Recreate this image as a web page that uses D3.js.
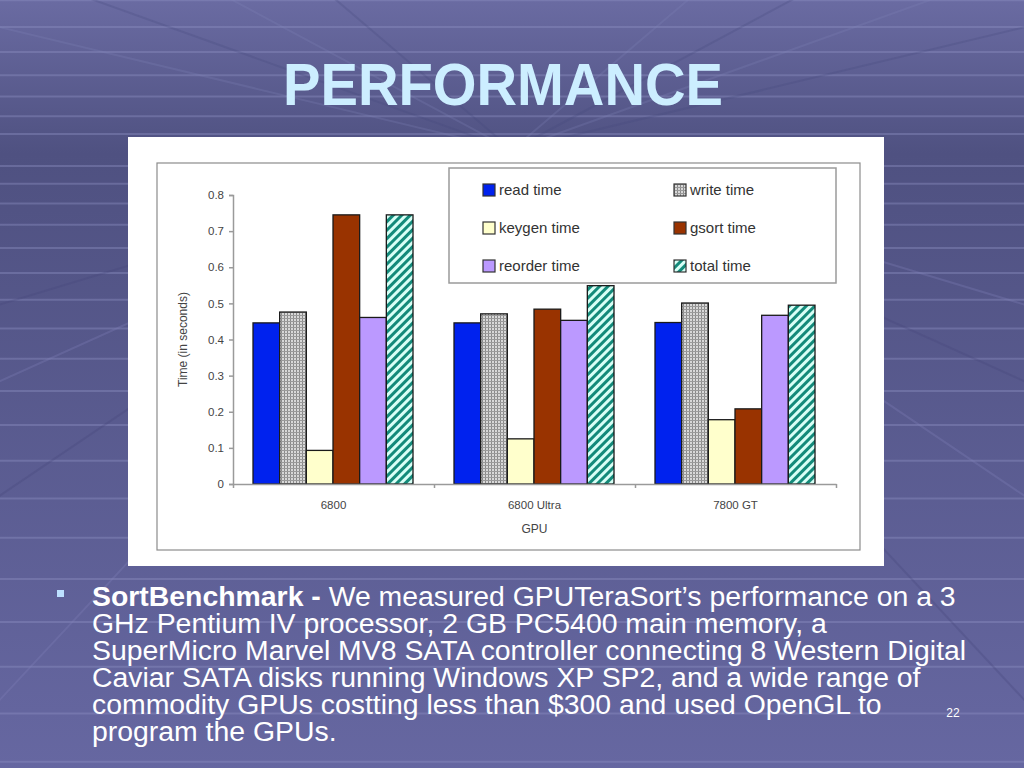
<!DOCTYPE html>
<html>
<head>
<meta charset="utf-8">
<script src="https://cdn.jsdelivr.net/npm/d3@7"></script>
<style>
  html, body { margin: 0; padding: 0; background: #5c5e92; }
  svg { display: block; }
</style>
</head>
<body>
<div id="root"></div>
<script>
// Data ////////////////////////////////////////////////////////////////
const categories = ['6800', '6800 Ultra', '7800 GT'];
const seriesNames = ['read time', 'write time', 'keygen time', 'gsort time', 'reorder time', 'total time'];
const readTime = [0.446, 0.446, 0.447];
const writeTime = [0.476, 0.471, 0.501];
const keygenTime = [0.093, 0.125, 0.178];
const gsortTime = [0.745, 0.484, 0.208];
const reorderTime = [0.461, 0.453, 0.467];
const totalTime = [0.745, 0.549, 0.495];
const yTicks = [0, 0.1, 0.2, 0.3, 0.4, 0.5, 0.6, 0.7, 0.8];

const seriesValues = [readTime, writeTime, keygenTime, gsortTime, reorderTime, totalTime];
const fills = ['#0022ee', 'url(#checker)', '#ffffcc', '#993300', '#bb99ff', 'url(#hatch)'];

const bodyLines = [
  [{ t: 'SortBenchmark - ', b: true }, { t: 'We measured GPUTeraSort\u2019s performance on a 3' }],
  [{ t: 'GHz Pentium IV processor, 2 GB PC5400 main memory, a' }],
  [{ t: 'SuperMicro Marvel MV8 SATA controller connecting 8 Western Digital' }],
  [{ t: 'Caviar SATA disks running Windows XP SP2, and a wide range of' }],
  [{ t: 'commodity GPUs costting less than $300 and used OpenGL to' }],
  [{ t: 'program the GPUs.' }],
];

const width = 1024;
const height = 768;

const svg = d3.select('#root').append('svg').attr('width', width).attr('height', height);
const defs = svg.append('defs');

// Background //////////////////////////////////////////////////////////
const bg = defs.append('linearGradient').attr('id', 'bg').attr('x1', 0).attr('y1', 0).attr('x2', 0).attr('y2', 1);
bg.append('stop').attr('offset', '0%').attr('stop-color', '#6a6ba2');
bg.append('stop').attr('offset', '20%').attr('stop-color', '#4f5181');
bg.append('stop').attr('offset', '100%').attr('stop-color', '#6667a1');
svg.append('rect').attr('width', width).attr('height', height).attr('fill', 'url(#bg)');

// perspective grid (decoration)
const horizon = 150;
const grid = svg.append('g').attr('stroke-width', 2).attr('fill', 'none');
let off = 0;
for (let k = 0; off < 640; k++) {
  off += 16 + 1.8 * k;
  [horizon + off, horizon - off].forEach((yy) => {
    if (yy > 0 && yy < height) {
      grid.append('line').attr('x1', 0).attr('x2', width).attr('y1', yy).attr('y2', yy)
        .attr('stroke', '#8e90c4').attr('stroke-opacity', 0.4);
    }
  });
}
const fanX = [-2200, -1300, -700, -250, 1274, 1724, 2324, 3224];
fanX.forEach((fx, i) => {
  grid.append('line').attr('x1', 512).attr('y1', horizon).attr('x2', fx).attr('y2', height + 200)
    .attr('stroke', i % 2 ? '#8082b8' : '#45477a').attr('stroke-opacity', 0.3);
  grid.append('line').attr('x1', 512).attr('y1', horizon).attr('x2', fx).attr('y2', -500)
    .attr('stroke', i % 2 ? '#45477a' : '#8082b8').attr('stroke-opacity', 0.25);
});

// Title
svg.append('text')
  .attr('x', 503).attr('y', 105)
  .attr('text-anchor', 'middle')
  .attr('font-family', 'Liberation Sans, Arial, sans-serif')
  .attr('font-weight', 'bold')
  .attr('font-size', 60)
  .attr('textLength', 440)
  .attr('lengthAdjust', 'spacingAndGlyphs')
  .attr('fill', '#cceeff')
  .text('PERFORMANCE');

// Chart frame /////////////////////////////////////////////////////////
svg.append('rect').attr('x', 128).attr('y', 137).attr('width', 756).attr('height', 429).attr('fill', '#ffffff');
svg.append('rect').attr('x', 157).attr('y', 163).attr('width', 703).attr('height', 387)
  .attr('fill', 'none').attr('stroke', '#8c8c8c').attr('stroke-width', 1.2);

// patterns
const checker = defs.append('pattern').attr('id', 'checker').attr('patternUnits', 'userSpaceOnUse')
  .attr('width', 3).attr('height', 3);
checker.append('rect').attr('width', 3).attr('height', 3).attr('fill', '#d8d8d8');
checker.append('rect').attr('width', 1).attr('height', 3).attr('fill', '#8a8a8a');
checker.append('rect').attr('width', 3).attr('height', 1).attr('fill', '#9a9a9a');

const hatch = defs.append('pattern').attr('id', 'hatch').attr('patternUnits', 'userSpaceOnUse')
  .attr('width', 6).attr('height', 6).attr('patternTransform', 'rotate(45)');
hatch.append('rect').attr('width', 6).attr('height', 6).attr('fill', '#d8fff6');
hatch.append('rect').attr('width', 3).attr('height', 6).attr('fill', '#138a7a');

// Scales //////////////////////////////////////////////////////////////
const x0 = d3.scaleBand().domain(categories).range([233, 836]);
const x1 = d3.scaleBand().domain(seriesNames).range([20, x0.bandwidth() - 21]);
const y = d3.scaleLinear().domain([0, 0.8]).range([484, 195]);

const chartFont = 'Liberation Sans, Arial, sans-serif';

// Bars
const groups = svg.append('g').selectAll('g')
  .data(categories)
  .enter()
  .append('g')
  .attr('transform', (d) => `translate(${x0(d)},0)`);

groups.selectAll('rect')
  .data((d, ci) => seriesNames.map((s, si) => ({ s, si, v: seriesValues[si][ci] })))
  .enter()
  .append('rect')
  .attr('x', (d) => x1(d.s))
  .attr('width', x1.bandwidth())
  .attr('y', (d) => y(d.v))
  .attr('height', (d) => y(0) - y(d.v))
  .attr('fill', (d) => fills[d.si])
  .attr('stroke', '#1a1a1a')
  .attr('stroke-width', 1.3);

// Y axis
const yAxis = d3.axisLeft(y).tickValues(yTicks).tickSize(4).tickPadding(5)
  .tickFormat((d) => (d === 0 ? '0' : d.toFixed(1)));
const yAxisGroup = svg.append('g').attr('transform', 'translate(233,0)').call(yAxis);
yAxisGroup.select('.domain').attr('stroke', '#9a9a9a').attr('stroke-width', 1.5);
yAxisGroup.selectAll('.tick line').attr('stroke', '#9a9a9a').attr('stroke-width', 1.5);
yAxisGroup.selectAll('.tick text').attr('fill', '#444').attr('font-size', 11.5).attr('font-family', chartFont);

// X axis
const xAxis = d3.axisBottom(x0).tickSize(0).tickPadding(17);
const xAxisGroup = svg.append('g').attr('transform', `translate(0,${y(0)})`).call(xAxis);
xAxisGroup.select('.domain').attr('stroke', '#9a9a9a').attr('stroke-width', 1.5);
xAxisGroup.selectAll('.tick text').attr('fill', '#444').attr('font-size', 11.5).attr('font-family', chartFont);

const xEdges = d3.scaleLinear().domain([0, categories.length]).range(x0.range());
const xTickGroup = svg.append('g').attr('transform', `translate(0,${y(0)})`)
  .call(d3.axisBottom(xEdges).tickValues(d3.range(categories.length + 1)).tickSize(4).tickFormat(''));
xTickGroup.select('.domain').remove();
xTickGroup.selectAll('.tick line').attr('stroke', '#9a9a9a').attr('stroke-width', 1.5);

// Axis titles
svg.append('text')
  .attr('transform', `translate(187,${(y(0) + y(0.8)) / 2}) rotate(-90)`)
  .attr('text-anchor', 'middle')
  .attr('font-family', chartFont).attr('font-size', 12).attr('fill', '#444')
  .text('Time (in seconds)');
svg.append('text')
  .attr('x', x0('6800 Ultra') + x0.bandwidth() / 2).attr('y', 533)
  .attr('text-anchor', 'middle')
  .attr('font-family', chartFont).attr('font-size', 12).attr('fill', '#444')
  .text('GPU');

// Legend
const legend = svg.append('g');
legend.append('rect').attr('x', 449).attr('y', 168).attr('width', 387).attr('height', 115)
  .attr('fill', '#fff').attr('stroke', '#9a9a9a').attr('stroke-width', 1.5);
const legendItems = legend.selectAll('g.item')
  .data(seriesNames)
  .enter()
  .append('g')
  .attr('class', 'item')
  .attr('transform', (d, i) => `translate(${i % 2 ? 674 : 483},${190 + Math.floor(i / 2) * 38})`);
legendItems.append('rect')
  .attr('x', 0).attr('y', -6).attr('width', 12).attr('height', 12)
  .attr('fill', (d, i) => fills[i]).attr('stroke', '#333').attr('stroke-width', 1.2);
legendItems.append('text')
  .attr('x', 16).attr('y', 5)
  .attr('font-family', chartFont).attr('font-size', 15).attr('fill', '#333')
  .text((d) => d);

// Body text ///////////////////////////////////////////////////////////
svg.append('rect').attr('x', 57).attr('y', 590).attr('width', 7).attr('height', 7).attr('fill', '#bde0ff');

const body = svg.append('text')
  .attr('font-family', 'Liberation Sans, Arial, sans-serif')
  .attr('font-size', 28.4)
  .attr('fill', '#ffffff');
bodyLines.forEach((line, i) => {
  line.forEach((part, j) => {
    const span = body.append('tspan').text(part.t);
    if (j === 0) span.attr('x', 92).attr('y', 606 + i * 27);
    if (part.b) span.attr('font-weight', 'bold');
  });
});

svg.append('text')
  .attr('x', 953).attr('y', 717)
  .attr('text-anchor', 'middle')
  .attr('font-family', 'Liberation Sans, Arial, sans-serif')
  .attr('font-size', 12)
  .attr('fill', '#ffffff')
  .text('22');
</script>
</body>
</html>
